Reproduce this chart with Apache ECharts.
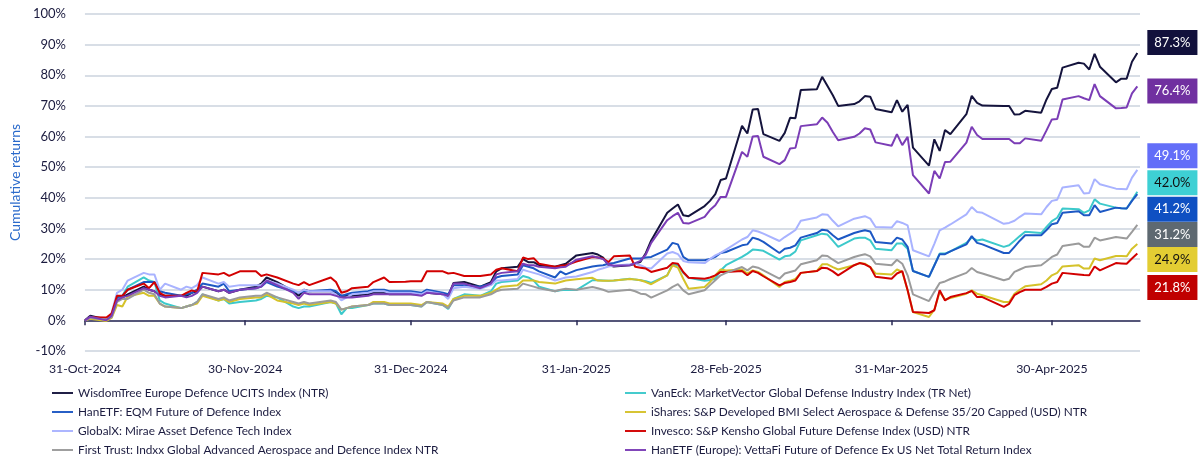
<!DOCTYPE html>
<html>
<head>
<meta charset="utf-8">
<script src="https://cdn.jsdelivr.net/npm/echarts@6/dist/echarts.min.js"></script>
<style>
    html, body { margin: 0; padding: 0; background: #fff; }
    #chart { width: 1200px; height: 460px; }
</style>
</head>
<body>
<div id="chart"></div>
<script type="text/javascript">
    // trading days shown in the chart
    var dates = [
        '2024-10-31', '2024-11-01', '2024-11-04', '2024-11-05', '2024-11-06', '2024-11-07', '2024-11-08',
        '2024-11-11', '2024-11-12', '2024-11-13', '2024-11-14', '2024-11-15', '2024-11-18', '2024-11-19', '2024-11-20', '2024-11-21', '2024-11-22',
        '2024-11-25', '2024-11-26', '2024-11-27', '2024-11-29',
        '2024-12-02', '2024-12-03', '2024-12-04', '2024-12-06', '2024-12-09', '2024-12-10', '2024-12-11', '2024-12-12', '2024-12-16', '2024-12-17',
        '2024-12-18', '2024-12-19', '2024-12-20', '2024-12-23', '2024-12-24', '2024-12-26', '2024-12-27', '2024-12-30', '2024-12-31',
        '2025-01-02', '2025-01-03', '2025-01-06', '2025-01-07', '2025-01-08', '2025-01-10', '2025-01-13', '2025-01-15', '2025-01-16', '2025-01-17',
        '2025-01-20', '2025-01-21', '2025-01-22', '2025-01-23', '2025-01-24', '2025-01-27', '2025-01-28', '2025-01-29', '2025-01-31',
        '2025-02-03', '2025-02-04', '2025-02-05', '2025-02-06', '2025-02-07', '2025-02-10', '2025-02-11', '2025-02-12', '2025-02-13', '2025-02-14',
        '2025-02-17', '2025-02-18', '2025-02-19', '2025-02-20', '2025-02-21', '2025-02-24', '2025-02-25', '2025-02-26', '2025-02-27', '2025-02-28',
        '2025-03-03', '2025-03-04', '2025-03-05', '2025-03-06', '2025-03-07', '2025-03-10', '2025-03-11', '2025-03-12', '2025-03-13', '2025-03-14',
        '2025-03-17', '2025-03-18', '2025-03-19', '2025-03-20', '2025-03-21', '2025-03-24', '2025-03-25', '2025-03-26', '2025-03-27', '2025-03-28', '2025-03-31',
        '2025-04-01', '2025-04-02', '2025-04-03', '2025-04-04', '2025-04-07', '2025-04-08', '2025-04-09', '2025-04-10', '2025-04-11', '2025-04-14',
        '2025-04-15', '2025-04-16', '2025-04-17', '2025-04-21', '2025-04-22', '2025-04-23', '2025-04-24', '2025-04-25', '2025-04-28', '2025-04-29', '2025-04-30',
        '2025-05-01', '2025-05-02', '2025-05-05', '2025-05-06', '2025-05-07', '2025-05-08', '2025-05-09', '2025-05-12', '2025-05-13', '2025-05-14', '2025-05-15', '2025-05-16'
    ];

    // cumulative returns, %
    var wisdomTree = [
        0, 1.5, 0.3, 1.5, 7.0, 7.5, 8.5, 11.0, 10.0, 9.5, 8.5, 8.0, 8.0, 8.0, 9.0, 9.5, 11.0, 9.5, 10.0, 9.0, 10.0,
        11.0, 12.0, 14.0, 12.5, 9.5, 8.0, 10.0, 9.5, 9.5, 9.0, 8.0, 8.0, 8.0, 8.5, 9.0, 9.0, 8.5, 8.5, 8.5,
        8.5, 9.0, 8.5, 8.0, 12.2, 12.5, 11.0, 12.5, 16.0, 17.0, 17.5, 20.0, 19.0, 19.0, 18.0, 17.5, 18.0, 18.5, 21.2,
        22.0, 21.5, 20.5, 18.0, 17.6, 18.0, 18.5, 19.1, 22.0, 26.1, 35.1, 36.5, 37.8, 34.3, 34.0, 37.3, 39.0, 41.2, 45.8, 46.3,
        63.5, 61.0, 68.8, 69.0, 60.8, 58.6, 61.2, 66.1, 66.0, 75.2, 75.4, 79.5, 76.5, 73.5, 70.0, 70.6, 71.5, 73.2, 73.0, 69.0, 67.9,
        71.9, 68.1, 70.3, 56.4, 50.5, 59.1, 55.3, 62.1, 60.8, 67.3, 73.3, 71.0, 70.1, 70.0, 70.0, 67.2, 67.3, 68.4, 67.8, 72.1, 75.5,
        75.9, 82.5, 84.1, 83.8, 81.9, 87.0, 82.8, 77.7, 78.9, 78.9, 84.4, 87.3
    ];
    var vanEck = [
        0, 1.0, 0.4, 2.0, 7.0, 8.0, 11.0, 14.0, 13.0, 12.5, 6.5, 5.5, 4.0, 4.5, 5.0, 6.0, 8.5, 6.5, 7.0, 5.5, 6.0,
        6.5, 7.0, 8.0, 7.5, 4.5, 4.0, 4.5, 4.5, 6.0, 5.5, 2.0, 4.0, 4.0, 5.0, 5.5, 5.5, 5.0, 5.0, 5.0,
        4.5, 6.0, 5.0, 3.7, 7.0, 8.5, 8.0, 9.5, 12.0, 12.5, 13.0, 14.5, 14.0, 13.0, 11.0, 9.5, 9.8, 10.0, 9.9,
        13.1, 13.1, 13.0, 12.9, 13.0, 13.6, 13.3, 13.1, 12.8, 12.2, 14.7, 18.3, 18.0, 15.5, 13.9, 12.9, 13.2, 13.6, 16.3, 18.0,
        20.7, 21.8, 23.1, 23.0, 22.7, 19.8, 20.9, 21.2, 22.5, 26.1, 27.8, 28.3, 28.0, 26.0, 24.0, 26.7, 27.0, 27.0, 26.1, 23.4, 22.9,
        25.1, 25.1, 23.4, 16.1, 14.2, 18.0, 21.8, 21.8, 22.5, 25.3, 27.0, 26.1, 26.4, 24.0, 24.5, 26.0, 27.5, 28.9, 28.5, 30.5, 32.4,
        33.5, 36.5, 36.3, 35.1, 35.9, 39.5, 38.1, 36.8, 36.6, 36.5, 39.2, 42.0
    ];
    var hanEtfEqm = [
        0, 1.0, 0.4, 1.8, 7.5, 8.0, 10.0, 12.5, 12.5, 12.5, 9.5, 9.0, 8.0, 8.5, 9.0, 10.0, 12.0, 11.0, 12.0, 9.5, 10.0,
        10.5, 11.0, 12.5, 11.0, 9.5, 9.0, 9.5, 9.5, 10.0, 9.5, 8.0, 8.5, 9.0, 9.5, 10.0, 10.0, 9.5, 9.5, 9.5,
        9.0, 10.0, 9.0, 8.5, 11.5, 11.5, 11.0, 12.0, 14.0, 14.5, 15.0, 18.0, 17.5, 17.0, 16.0, 14.0, 16.0, 15.0, 16.4,
        17.6, 17.8, 18.0, 18.5, 18.7, 20.2, 20.2, 20.2, 20.5, 20.7, 23.1, 25.3, 24.8, 20.7, 19.6, 19.6, 20.0, 20.7, 22.0, 22.3,
        24.5, 24.8, 27.0, 26.5, 25.6, 22.0, 23.4, 23.7, 24.5, 27.0, 28.5, 29.6, 29.3, 27.8, 26.4, 28.5, 29.0, 29.4, 29.0, 25.6, 25.1,
        27.0, 26.4, 24.0, 16.1, 14.2, 17.9, 21.6, 21.6, 22.5, 24.8, 27.5, 25.3, 24.8, 22.0, 22.0, 24.0, 26.0, 27.8, 27.8, 29.5, 31.4,
        31.8, 35.1, 35.6, 34.3, 34.3, 37.6, 35.4, 36.8, 36.6, 36.5, 39.0, 41.2
    ];
    var iShares = [
        0, 0.5, -0.2, 0.8, 5.0, 4.5, 7.8, 9.0, 8.0, 8.0, 5.5, 4.5, 4.0, 4.5, 5.0, 5.5, 8.0, 6.5, 7.0, 6.0, 7.0,
        7.5, 7.5, 8.5, 6.5, 5.5, 5.0, 5.5, 5.0, 6.0, 5.5, 3.5, 4.0, 4.5, 5.0, 6.0, 6.0, 5.5, 5.5, 5.5,
        5.0, 6.0, 5.5, 4.5, 7.0, 8.0, 8.0, 9.0, 10.0, 11.0, 11.5, 13.0, 13.0, 13.0, 12.5, 12.0, 12.5, 13.0, 13.4,
        13.9, 13.0, 12.9, 12.9, 13.0, 13.5, 13.3, 13.1, 12.5, 11.8, 14.7, 18.0, 17.2, 13.6, 10.3, 10.9, 12.5, 14.7, 16.6, 16.3,
        16.6, 15.3, 16.3, 15.8, 14.7, 10.9, 12.5, 12.9, 13.5, 15.5, 16.1, 18.3, 18.3, 17.4, 16.6, 18.0, 18.7, 18.5, 17.4, 15.3, 15.0,
        16.6, 15.8, 9.8, 2.7, 1.1, 3.5, 9.3, 6.8, 7.3, 8.7, 9.8, 8.7, 8.2, 6.0, 6.0, 8.7, 10.0, 11.1, 11.8, 13.0, 14.7,
        15.5, 17.6, 18.0, 16.9, 16.9, 20.2, 19.6, 21.0, 21.0, 20.9, 23.4, 24.9
    ];
    var globalX = [
        0, 1.0, 0.2, 2.5, 9.0, 10.0, 13.0, 15.5, 15.0, 15.0, 10.0, 12.0, 10.0, 11.0, 10.5, 11.5, 14.0, 12.0, 12.5, 11.0, 11.5,
        11.5, 11.5, 13.0, 12.0, 10.0, 9.0, 10.0, 9.5, 9.5, 8.5, 6.5, 7.5, 8.5, 9.0, 9.5, 9.5, 9.0, 9.0, 9.0,
        8.5, 9.5, 8.5, 7.0, 10.5, 11.0, 10.3, 11.5, 13.0, 13.0, 13.5, 16.5, 16.0, 15.5, 15.0, 13.0, 13.5, 14.0, 14.3,
        15.8, 16.5, 17.0, 17.6, 17.8, 18.3, 18.5, 18.0, 17.2, 16.9, 21.8, 22.3, 21.6, 19.4, 19.0, 18.7, 20.0, 21.2, 22.0, 23.1,
        26.4, 27.2, 29.4, 29.0, 28.3, 25.9, 27.2, 28.3, 29.5, 32.5, 33.6, 34.6, 34.5, 32.5, 30.7, 33.2, 33.6, 34.0, 33.2, 30.5, 30.3,
        32.4, 31.8, 31.0, 22.9, 20.9, 25.0, 29.4, 30.3, 31.3, 34.6, 37.0, 35.4, 35.1, 31.5, 31.8, 32.5, 33.8, 34.9, 34.6, 37.0, 39.0,
        39.4, 43.4, 44.1, 41.4, 41.6, 46.1, 44.4, 43.0, 42.9, 42.8, 46.6, 49.1
    ];
    var invesco = [
        0, 1.0, 0.9, 2.2, 8.0, 8.0, 10.0, 12.0, 10.5, 12.5, 9.0, 8.0, 8.0, 9.0, 9.8, 9.3, 15.5, 15.0, 15.5, 14.5, 16.0,
        16.0, 14.5, 15.0, 14.0, 12.0, 11.5, 12.5, 11.5, 14.0, 12.5, 9.0, 9.5, 10.5, 11.0, 12.5, 14.0, 12.5, 12.6, 12.8,
        12.8, 16.0, 16.0, 15.3, 15.5, 14.5, 14.5, 15.0, 16.5, 17.0, 16.0, 20.5, 20.0, 20.3, 18.5, 17.5, 17.8, 18.0, 19.2,
        20.7, 20.5, 20.2, 19.0, 20.9, 21.2, 17.5, 17.2, 16.9, 15.8, 17.2, 18.7, 18.5, 15.8, 13.9, 13.6, 14.0, 14.7, 15.8, 15.8,
        16.1, 14.7, 16.1, 15.5, 14.4, 11.4, 12.2, 12.5, 13.0, 15.5, 16.1, 17.2, 17.0, 16.0, 14.7, 18.0, 18.7, 18.3, 17.4, 14.2, 13.6,
        15.3, 16.1, 9.8, 2.7, 2.4, 3.3, 9.8, 6.5, 7.6, 8.9, 9.6, 7.6, 7.6, 4.4, 5.4, 8.2, 9.2, 10.0, 10.0, 10.9, 12.0,
        12.5, 15.5, 15.0, 14.8, 14.7, 17.6, 16.3, 18.7, 18.6, 18.5, 20.2, 21.8
    ];
    var firstTrust = [
        0, 0.8, 0.3, 1.0, 6.0, 7.0, 7.0, 10.0, 9.0, 8.5, 5.5, 4.5, 4.0, 4.5, 5.0, 6.0, 8.5, 7.0, 7.5, 6.5, 7.5,
        8.0, 8.0, 9.0, 7.5, 6.0, 5.5, 6.0, 5.5, 6.5, 6.0, 3.5, 4.0, 4.5, 5.0, 5.5, 5.5, 5.0, 5.0, 5.0,
        4.5, 6.0, 5.0, 4.0, 6.5, 7.5, 7.5, 8.5, 9.5, 10.0, 10.3, 12.0, 11.5, 11.0, 10.5, 9.5, 10.0, 10.3, 10.0,
        10.9, 10.5, 10.0, 9.3, 9.5, 10.0, 9.5, 8.7, 8.5, 7.4, 9.8, 10.9, 11.8, 9.8, 8.5, 9.8, 11.5, 13.1, 14.7, 15.5,
        17.4, 16.3, 17.6, 17.2, 16.3, 13.6, 15.3, 15.8, 16.3, 18.3, 19.6, 21.2, 21.0, 19.8, 18.7, 20.7, 21.2, 21.6, 20.9, 18.5, 18.0,
        19.8, 18.5, 14.7, 8.5, 6.3, 9.3, 12.2, 12.7, 13.5, 15.5, 17.1, 15.8, 15.3, 13.1, 13.6, 15.8, 16.6, 17.4, 18.0, 19.3, 20.7,
        21.5, 24.3, 25.1, 24.0, 24.0, 27.0, 26.1, 27.2, 27.0, 26.7, 28.9, 31.2
    ];
    var hanEtfEurope = [
        0, 1.2, 0.0, 1.5, 6.5, 7.5, 8.0, 10.5, 10.0, 9.5, 8.0, 7.5, 8.0, 7.5, 8.0, 9.0, 11.0, 9.5, 10.0, 9.0, 10.0,
        10.5, 11.0, 13.0, 11.5, 9.0, 7.0, 9.0, 8.5, 8.5, 8.0, 7.5, 7.5, 7.5, 8.0, 8.5, 8.5, 8.5, 8.5, 8.5,
        8.0, 9.0, 8.5, 8.0, 12.0, 12.0, 10.5, 12.0, 15.0, 15.5, 16.0, 18.5, 18.0, 18.0, 17.5, 17.0, 17.3, 17.5, 19.8,
        20.9, 20.5, 20.0, 18.3, 17.8, 18.0, 18.7, 19.4, 21.5, 25.3, 32.7, 34.0, 35.1, 31.8, 31.6, 33.8, 36.0, 37.6, 40.3, 40.3,
        55.0, 53.4, 60.0, 60.2, 53.4, 51.0, 52.3, 56.1, 56.3, 63.4, 64.0, 66.2, 64.5, 61.5, 58.8, 59.9, 61.0, 62.7, 62.3, 58.1, 57.0,
        60.8, 57.2, 59.9, 47.4, 41.4, 48.8, 46.3, 51.7, 51.8, 58.0, 63.2, 60.5, 59.2, 59.2, 59.2, 57.8, 57.8, 59.4, 58.6, 62.0, 65.6,
        65.7, 72.1, 73.2, 72.5, 71.9, 77.1, 73.2, 69.2, 69.3, 69.5, 74.1, 76.4
    ];

    var names = [
        'WisdomTree Europe Defence UCITS Index (NTR)',
        'VanEck: MarketVector Global Defense Industry Index (TR Net)',
        'HanETF: EQM Future of Defence Index',
        'iShares: S&P Developed BMI Select Aerospace & Defense 35/20 Capped (USD) NTR',
        'GlobalX: Mirae Asset Defence Tech Index',
        'Invesco: S&P Kensho Global Future Defense Index (USD) NTR',
        'First Trust: Indxx Global Advanced Aerospace and Defence Index NTR',
        'HanETF (Europe): VettaFi Future of Defence Ex US Net Total Return Index'
    ];
    var values = [wisdomTree, vanEck, hanEtfEqm, iShares, globalX, invesco, firstTrust, hanEtfEurope];

    // month-end axis ticks
    var tickDates = ['2024-10-31', '2024-11-30', '2024-12-31', '2025-01-31', '2025-02-28', '2025-03-31', '2025-04-30'];

    // styling
    var lineColors = ['#15143d', '#3cc9cb', '#1d58c4', '#d5c22a', '#a9b3ff', '#d20000', '#9b9b9b', '#7b3db6'];
    var boxColors = ['#12113c', '#3ed0d4', '#0f50c2', '#e3cd33', '#636ef8', '#c00000', '#5e6971', '#7030a0'];
    var boxText = ['#fff', '#111', '#fff', '#111', '#fff', '#fff', '#fff', '#fff'];
    // where the end-value boxes sit, in % on the y scale (spread so they do not overlap)
    var boxSlots = [90.7, 44.9, 36.3, 19.9, 53.7, 10.7, 28.0, 74.9];

    var textColor = '#1b1b3f';
    var font = 'Lato, "Open Sans", sans-serif';
    var months = ['Jan', 'Feb', 'Mar', 'Apr', 'May', 'Jun', 'Jul', 'Aug', 'Sep', 'Oct', 'Nov', 'Dec'];

    function toTime(s) {
        var p = s.split('-');
        return new Date(+p[0], +p[1] - 1, +p[2]).getTime();
    }
    function fmtDate(v) {
        var d = new Date(v);
        var dd = d.getDate();
        return (dd < 10 ? '0' + dd : dd) + '-' + months[d.getMonth()] + '-' + d.getFullYear();
    }

    var times = dates.map(toTime);
    var ticks = tickDates.map(toTime);
    var xMin = times[0];
    var xMax = times[times.length - 1] + 12 * 3600 * 1000;

    var series = names.map(function (name, i) {
        return {
            name: name,
            type: 'line',
            symbol: 'none',
            smooth: false,
            color: lineColors[i],
            lineStyle: { width: 2, color: lineColors[i] },
            data: times.map(function (t, k) { return [t, values[i][k]]; }),
            z: 2 + i
        };
    });

    var lastTime = times[times.length - 1];
    series.push({
        name: 'end values',
        type: 'scatter',
        symbolSize: 0,
        silent: true,
        z: 20,
        itemStyle: { opacity: 1 },
        data: values.map(function (v, i) {
            var last = v[v.length - 1];
            return {
                value: [lastTime, boxSlots[i]],
                label: {
                    show: true,
                    position: 'right',
                    distance: 10,
                    formatter: last.toFixed(1) + '%',
                    backgroundColor: boxColors[i],
                    color: boxText[i],
                    opacity: 1,
                    fontFamily: font,
                    fontSize: 13,
                    lineHeight: 15,
                    padding: [5, 7, 5, 7]
                }
            };
        })
    });

    var legendBase = {
        orient: 'vertical',
        top: 382,
        height: 84,
        itemWidth: 21,
        itemHeight: 12,
        itemGap: 7,
        icon: 'path://M0,5 L22,5 L22,7 L0,7 Z',
        textStyle: { color: textColor, fontFamily: font, fontSize: 11.8 }
    };

    var option = {
        animation: false,
        textStyle: { fontFamily: font },
        grid: { left: 80, right: 60, top: 14, bottom: 109 },
        legend: [
            Object.assign({}, legendBase, { left: 47, data: [names[0], names[2], names[4], names[6]] }),
            Object.assign({}, legendBase, { left: 620, data: [names[1], names[3], names[5], names[7]] })
        ],
        xAxis: [
            {
                type: 'value',
                min: xMin,
                max: xMax,
                position: 'bottom',
                axisLine: { show: false, onZero: false },
                axisTick: { show: false },
                splitLine: { show: false },
                axisLabel: {
                    customValues: ticks,
                    formatter: fmtDate,
                    alignMinLabel: 'center',
                    color: textColor,
                    fontFamily: font,
                    fontSize: 12.3,
                    margin: 12
                }
            },
            {
                type: 'value',
                min: xMin,
                max: xMax,
                position: 'bottom',
                axisLine: { show: true, onZero: true, lineStyle: { color: '#2a2a55', width: 1.5 } },
                axisTick: { show: true, customValues: ticks, length: 5, lineStyle: { color: '#2a2a55', width: 1.5 } },
                axisLabel: { show: false },
                splitLine: { show: false }
            }
        ],
        yAxis: {
            type: 'value',
            min: -10,
            max: 100,
            interval: 10,
            name: 'Cumulative returns',
            nameLocation: 'middle',
            nameRotate: 90,
            nameGap: 62,
            nameTextStyle: { color: '#2a6acb', fontFamily: font, fontSize: 14 },
            axisLine: { show: false },
            axisTick: { show: false },
            axisLabel: { formatter: '{value}%', color: textColor, fontFamily: font, fontSize: 13, margin: 19 },
            splitLine: { lineStyle: { color: '#cbd3de', width: 1.5 } }
        },
        series: series
    };

    var chart = echarts.init(document.getElementById('chart'));
    chart.setOption(option);
</script>
</body>
</html>
